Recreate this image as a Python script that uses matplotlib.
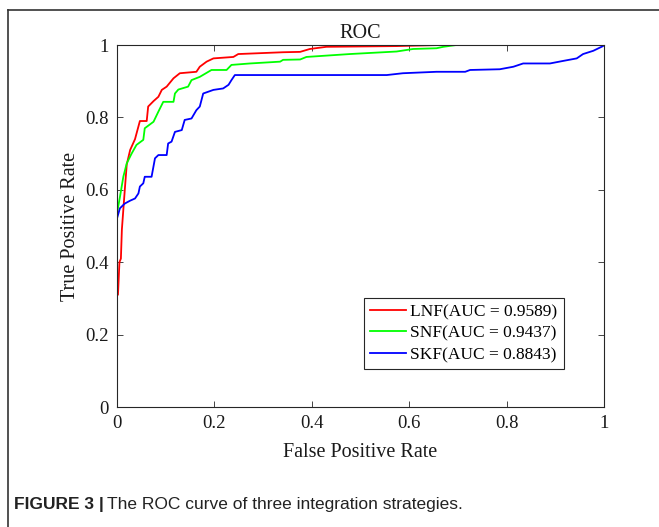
import matplotlib
matplotlib.use("Agg")
import matplotlib.pyplot as plt
from matplotlib.lines import Line2D

# LNF curve
lnf_fpr = [0.0, 0.0, 0.002, 0.005, 0.008, 0.010, 0.016, 0.020, 0.027, 0.037, 0.047, 0.061, 0.064,
           0.075, 0.085, 0.092, 0.102, 0.116, 0.129, 0.163, 0.170, 0.184, 0.198, 0.239,
           0.249, 0.341, 0.376, 0.396, 0.430, 0.574, 0.663, 0.731, 1.0]
lnf_tpr = [0.0, 0.31, 0.31, 0.40, 0.41, 0.49, 0.60, 0.67, 0.71, 0.74, 0.79, 0.79, 0.83,
           0.845, 0.857, 0.876, 0.885, 0.908, 0.922, 0.926, 0.94, 0.954, 0.963, 0.967,
           0.975, 0.980, 0.981, 0.989, 0.995, 0.997, 1.0, 1.0, 1.0]

# SNF curve
snf_fpr = [0.0, 0.0, 0.006, 0.013, 0.020, 0.030, 0.040, 0.054, 0.057, 0.075, 0.085, 0.095,
           0.116, 0.119, 0.126, 0.146, 0.153, 0.170, 0.194, 0.225, 0.235, 0.273, 0.335,
           0.341, 0.376, 0.389, 0.478, 0.574, 0.608, 0.656, 0.670, 0.697, 1.0]
snf_tpr = [0.0, 0.535, 0.58, 0.636, 0.673, 0.70, 0.724, 0.738, 0.77, 0.788, 0.816, 0.843,
           0.843, 0.866, 0.877, 0.885, 0.903, 0.912, 0.931, 0.931, 0.945, 0.949, 0.954,
           0.959, 0.960, 0.967, 0.975, 0.982, 0.989, 0.991, 0.995, 1.0, 1.0]

# SKF curve
skf_fpr = [0.0, 0.0, 0.006, 0.016, 0.027, 0.037, 0.044, 0.047, 0.054, 0.057, 0.071, 0.078,
           0.085, 0.102, 0.105, 0.112, 0.119, 0.133, 0.139, 0.153, 0.163, 0.170, 0.177,
           0.198, 0.218, 0.229, 0.235, 0.242, 0.554, 0.587, 0.656, 0.715, 0.725, 0.786,
           0.814, 0.834, 0.889, 0.916, 0.944, 0.957, 0.978, 0.998, 1.0]
skf_tpr = [0.0, 0.521, 0.549, 0.562, 0.57, 0.576, 0.59, 0.609, 0.618, 0.636, 0.636, 0.687,
           0.696, 0.696, 0.728, 0.733, 0.76, 0.765, 0.793, 0.797, 0.82, 0.83, 0.866,
           0.876, 0.88, 0.89, 0.903, 0.917, 0.917, 0.922, 0.926, 0.926, 0.931, 0.933,
           0.94, 0.949, 0.949, 0.956, 0.963, 0.975, 0.984, 0.997, 1.0]

labels = ["LNF(AUC = 0.9589)", "SNF(AUC = 0.9437)", "SKF(AUC = 0.8843)"]
ticks = [0, 0.2, 0.4, 0.6, 0.8, 1]
tick_labels = ["0", "0.2", "0.4", "0.6", "0.8", "1"]

serif = "Liberation Serif"
fig = plt.figure(figsize=(6.59, 5.27), dpi=100)
ax = fig.add_axes([117/659, 120/527, 487/659, 362/527])

ax.plot(lnf_fpr, lnf_tpr, color="#ff0000", lw=1.3, label=labels[0])
ax.plot(snf_fpr, snf_tpr, color="#00ff00", lw=1.3, label=labels[1])
ax.plot(skf_fpr, skf_tpr, color="#0000ff", lw=1.3, label=labels[2])

ax.set_xlim(0, 1)
ax.set_ylim(0, 1)
ax.set_xticks(ticks)
ax.set_xticklabels(tick_labels, fontfamily=serif, fontsize=13.5)
ax.set_yticks(ticks)
ax.set_yticklabels(tick_labels, fontfamily=serif, fontsize=13.5)
ax.tick_params(direction="in", length=4, width=0.6, colors="#262626",
               top=True, right=True, labelcolor="#1a1a1a", pad=6)
for s in ax.spines.values():
    s.set_color("#262626")
    s.set_linewidth(0.8)

ax.set_xlabel("False Positive Rate", fontfamily=serif, fontsize=14.5, color="#1a1a1a", labelpad=8)
ax.set_ylabel("True Positive Rate", fontfamily=serif, fontsize=14.5, color="#1a1a1a", labelpad=4)
ax.set_title("ROC", fontfamily=serif, fontsize=14.5, color="#1a1a1a", pad=5)

leg = ax.legend(loc="lower right", bbox_to_anchor=(0.917, 0.105), prop={"family": serif, "size": 12.5},
                fancybox=False, edgecolor="#262626", framealpha=1, handlelength=2.1,
                handletextpad=0.25, borderpad=0.35, labelspacing=0.3, borderaxespad=0)
leg.get_frame().set_linewidth(0.8)

# Figure frame (top and left edges visible)
fig.add_artist(Line2D([8/659, 1.0], [1 - 10/527, 1 - 10/527], color="#333333", lw=1.2))
fig.add_artist(Line2D([8/659, 8/659], [0.0, 1 - 10/527], color="#333333", lw=1.2))

# Caption
fig.text(14/659, 1 - 505/527, "FIGURE 3 |", fontfamily="Liberation Sans", fontweight="bold",
         fontsize=12.5, color="#222222", va="center")
fig.text(107/659, 1 - 505/527, "The ROC curve of three integration strategies.",
         fontfamily="Liberation Sans", fontsize=12.5, color="#222222", va="center")

fig.savefig("out.png", dpi=100)
